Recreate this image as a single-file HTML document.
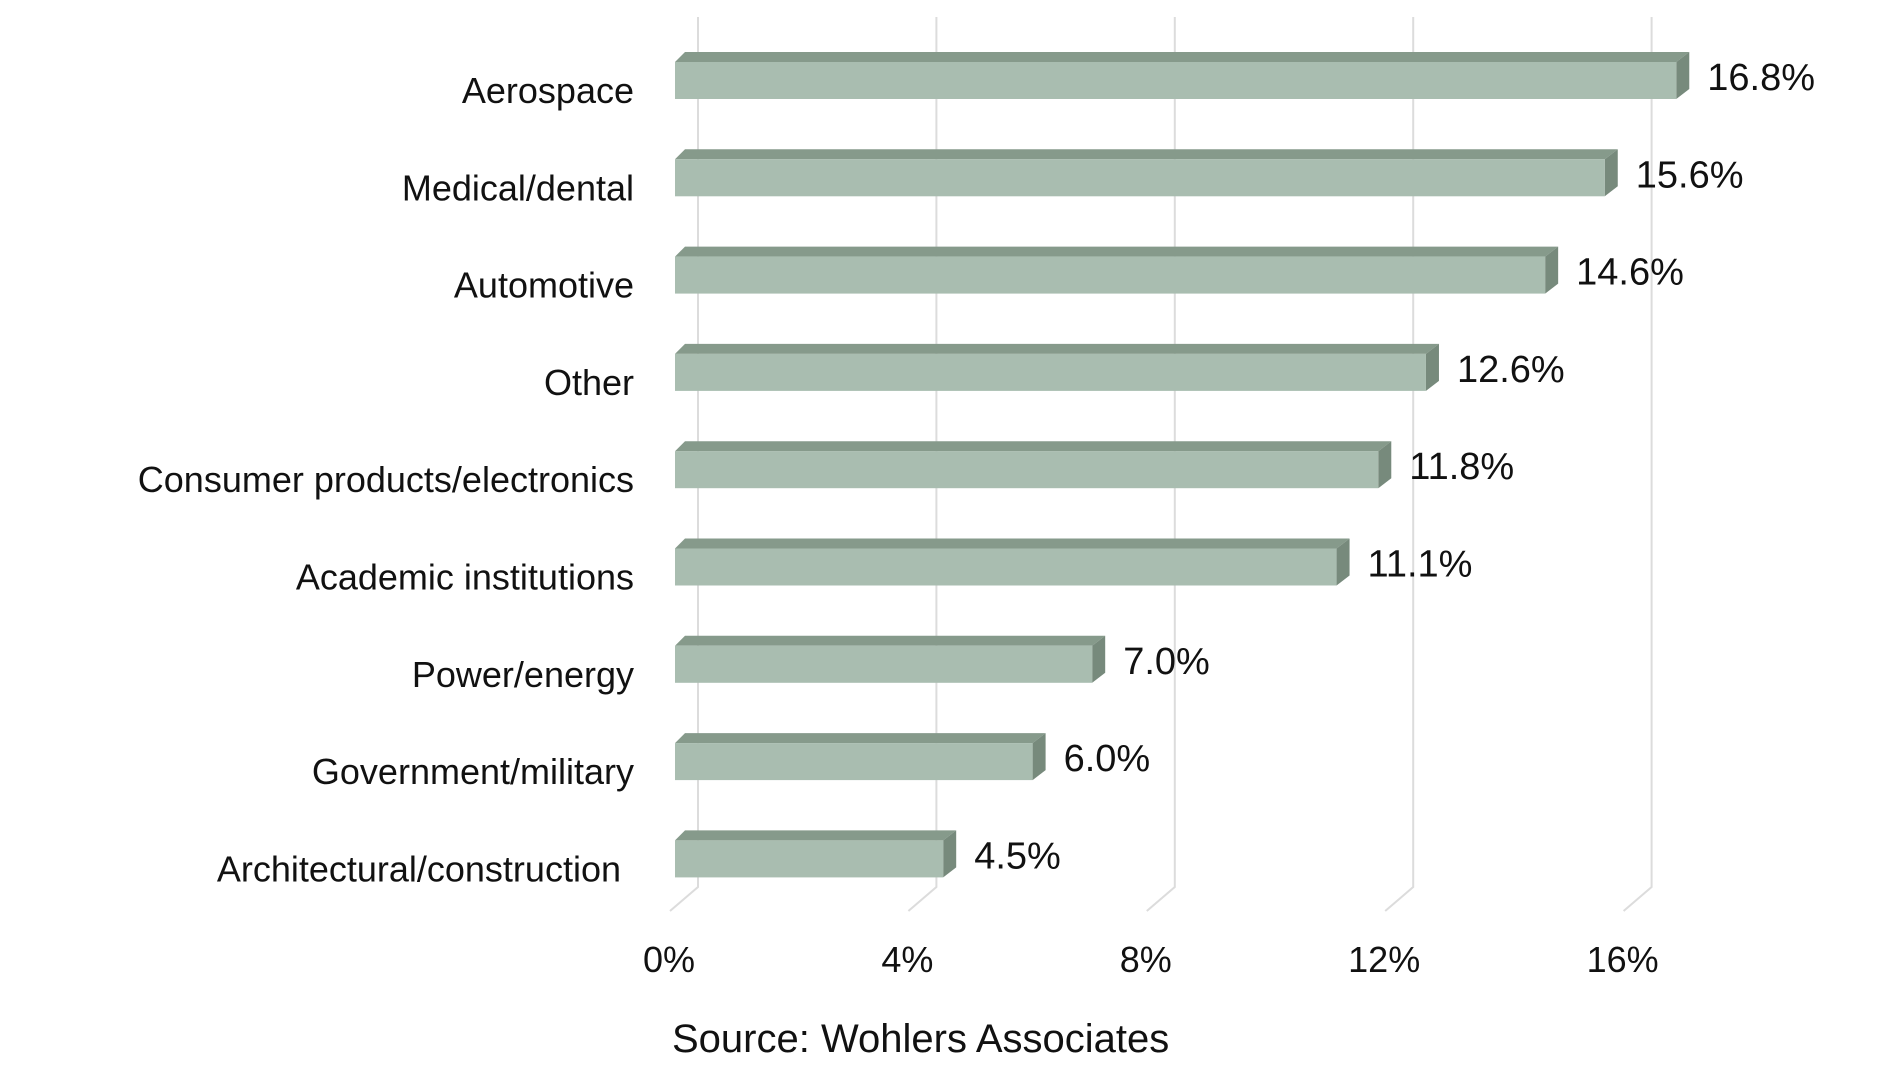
<!DOCTYPE html>
<html><head><meta charset="utf-8"><style>
html,body{margin:0;padding:0;background:#fff;}
svg{display:block;font-family:"Liberation Sans",Arial,sans-serif;}
</style></head><body>
<svg id="chart" width="1900" height="1069" viewBox="0 0 1900 1069" xmlns="http://www.w3.org/2000/svg">
<g id="grid"></g>
<g id="bars"></g>
<g id="labels"></g>
<g id="ticks"></g>
<text x="672" y="1052" font-size="40" fill="#111">Source: Wohlers Associates</text>
</svg>
<script>
const categories = ["Aerospace","Medical/dental","Automotive","Other","Consumer products/electronics","Academic institutions","Power/energy","Government/military","Architectural/construction"];
const values = [16.8,15.6,14.6,12.6,11.8,11.1,7.0,6.0,4.5];
const valueLabels = ["16.8%","15.6%","14.6%","12.6%","11.8%","11.1%","7.0%","6.0%","4.5%"];
const tickValues = [0,4,8,12,16];
const tickLabels = ["0%","4%","8%","12%","16%"];

const NS="http://www.w3.org/2000/svg";
const x0=675, perUnit=59.6;
const xs=v=>x0+v*perUnit;
const rowTop=i=>62+i*97.3;
const barH=37, depth=10;
function mk(tag,attrs,parent){const e=document.createElementNS(NS,tag);for(const k in attrs)e.setAttribute(k,attrs[k]);parent.appendChild(e);return e;}

const grid=document.getElementById('grid');
tickValues.forEach((t,i)=>{
  const bx=xs(t)+23;
  const l=mk('path',{d:`M${bx},17 L${bx},887 L${xs(t)-5},911`,stroke:'#dcdcdc','stroke-width':2,fill:'none'},grid);
  
  
});
const ticks=document.getElementById('ticks');
tickValues.forEach((t,i)=>{
  const tx=mk('text',{x:xs(t)-6,y:972,'font-size':36,'text-anchor':'middle',fill:'#111'},ticks);
  tx.textContent=tickLabels[i];
  
  
});
const bars=document.getElementById('bars'), labels=document.getElementById('labels');
categories.forEach((c,i)=>{
  const y=rowTop(i), xe=xs(values[i]);
  const g=mk('g',{},bars);
  
  
  mk('polygon',{points:`${x0},${y} ${x0+depth},${y-depth} ${xe+depth+3},${y-depth} ${xe},${y}`,fill:'#869a8b'},g);
  mk('polygon',{points:`${xe},${y} ${xe+depth+3},${y-depth} ${xe+depth+3},${y+barH-depth} ${xe},${y+barH}`,fill:'#778a7c'},g);
  mk('rect',{x:x0,y:y,width:xe-x0,height:barH,fill:'#a9bdb0'},g);
  const vt=mk('text',{x:xe+31,y:y+28,'font-size':38,fill:'#111'},g);
  vt.textContent=valueLabels[i];
  const lt=mk('text',{x:i===8?621:634,y:y+41,'font-size':36,'text-anchor':'end',fill:'#111'},labels);
  lt.textContent=c;
  
  
});
</script>
</body></html>
